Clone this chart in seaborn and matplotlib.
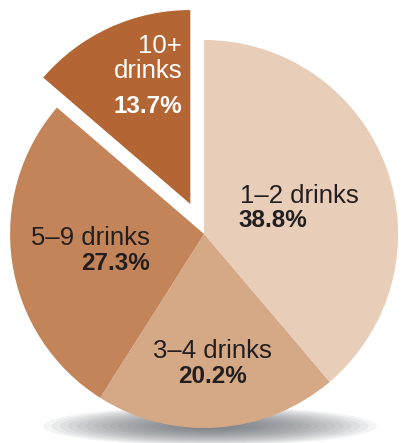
"""
drinks pie chart
"""
import matplotlib
matplotlib.use("Agg")
import matplotlib.pyplot as plt
from matplotlib.patches import Ellipse
import seaborn as sns

# data
groups = ["1–2 drinks", "3–4 drinks", "5–9 drinks", "10+ drinks"]
shares = [38.8, 20.2, 27.3, 13.7]
pct_labels = ["38.8%", "20.2%", "27.3%", "13.7%"]
colors = ["#E8CDB9", "#D5A886", "#C4845A", "#B36634"]

sns.set_theme(style="white")
plt.rcParams['font.family'] = ['Liberation Sans', 'DejaVu Sans']

fig = plt.figure(figsize=(4.01, 4.43), dpi=100)
ax = fig.add_axes([0, 0, 1, 1])
ax.axis("off")

# shadow under the pie
for i in range(20):
    k = 1 - i / 20
    ax.add_patch(Ellipse((0.03, -0.99), 1.72 * k, 0.20 * k,
                         color="#5f646b", alpha=0.07, lw=0, zorder=0))

explode = [0, 0, 0, 0.17]
ax.pie(shares, colors=colors, startangle=90, counterclock=False,
       explode=explode, radius=1.0, wedgeprops=dict(linewidth=0),
       frame=False)
ax.set_xlim(-1.052, 1.015)
ax.set_ylim(-1.077, 1.206)

dark = "#231f20"
reg = dict(fontsize=18.5, color=dark, va="baseline")
bold = dict(fontsize=17.5, color=dark, va="baseline", fontweight="bold")

# 1-2 drinks
ax.text(0.186, 0.160, groups[0], ha="left", **reg)
ax.text(0.175, 0.036, pct_labels[0], ha="left", **bold)
# 3-4 drinks
ax.text(0.041, -0.639, groups[1], ha="center", **reg)
ax.text(0.041, -0.768, pct_labels[1], ha="center", **bold)
# 5-9 drinks
ax.text(-0.278, -0.057, groups[2], ha="right", **reg)
ax.text(-0.278, -0.186, pct_labels[2], ha="right", **bold)
# 10+ drinks
first, second = groups[3].split(" ")
ax.text(-0.113, 0.933, first, ha="right", fontsize=18.5, color="white", va="baseline")
ax.text(-0.113, 0.804, second, ha="right", fontsize=18.5, color="white", va="baseline")
ax.text(-0.113, 0.624, pct_labels[3], ha="right", fontsize=17.5, color="white",
        va="baseline", fontweight="bold")

plt.savefig("out.png", dpi=100)
